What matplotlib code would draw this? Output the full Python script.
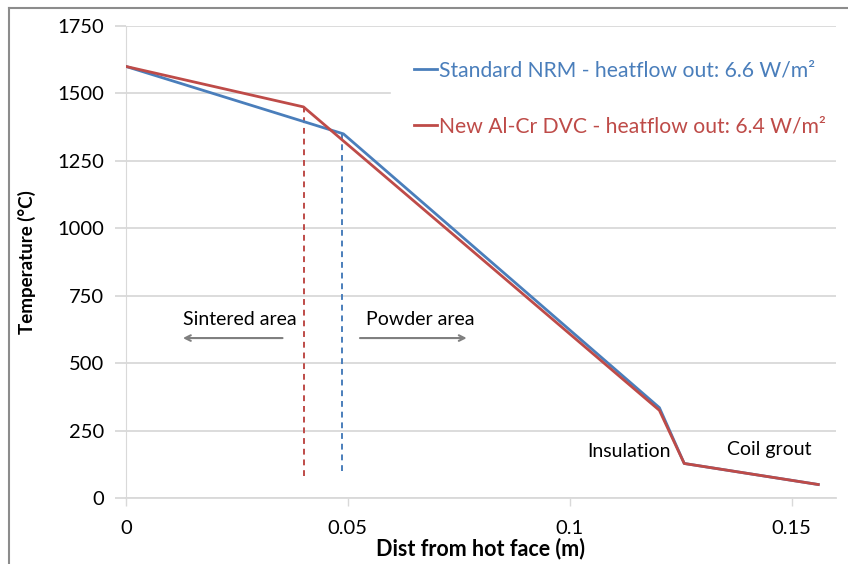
import matplotlib
matplotlib.use("Agg")
import matplotlib.pyplot as plt
from matplotlib.lines import Line2D

plt.rcParams['font.family'] = ['Lato', 'DejaVu Sans']

# temperature profiles through the lining
dist_nrm = [0, 0.049, 0.1202, 0.1258, 0.156]
temp_nrm = [1600, 1350, 335, 128, 50]
dist_dvc = [0, 0.040, 0.1202, 0.1258, 0.156]
temp_dvc = [1600, 1450, 325, 128, 50]

label_nrm = "Standard NRM - heatflow out: 6.6 W/m²"
label_dvc = "New Al-Cr DVC - heatflow out: 6.4 W/m²"

# sintering front markers
front_nrm = (0.0487, 100, 1350)
front_dvc = (0.040, 80, 1450)

xticks = [0, 0.05, 0.1, 0.15]
xticklabels = ["0", "0.05", "0.1", "0.15"]
yticks = [0, 250, 500, 750, 1000, 1250, 1500, 1750]

blue = "#4a7ebb"
red = "#be4b48"
grid = "#d9d9d9"

fig = plt.figure(figsize=(8.48, 5.64), dpi=100)
ax = fig.add_axes([126/848, 1-498/564, 710/848, 472/564])

ax.plot(dist_nrm, temp_nrm, color=blue, lw=2.0, zorder=4)
ax.plot(dist_dvc, temp_dvc, color=red, lw=2.0, zorder=5)

ax.vlines(front_dvc[0], front_dvc[1], front_dvc[2], colors=red, linestyles=(0, (3, 2.5)), lw=1.4, zorder=3)
ax.vlines(front_nrm[0], front_nrm[1], front_nrm[2], colors=blue, linestyles=(0, (3, 2.5)), lw=1.4, zorder=3)

ax.set_xlim(0, 0.16)
ax.set_ylim(0, 1750)
ax.set_xticks(xticks)
ax.set_xticklabels(xticklabels)
ax.set_yticks(yticks)
ax.yaxis.grid(True, color=grid, lw=1.3, zorder=0)
ax.set_axisbelow(True)
for s in ["top", "right"]:
    ax.spines[s].set_visible(False)
ax.spines["left"].set_color(grid)
ax.spines["bottom"].set_color(grid)
ax.spines["bottom"].set_linewidth(1.3)
ax.tick_params(axis="y", length=8, color=grid, width=1.3, pad=8, labelsize=14.5)
ax.tick_params(axis="x", length=6, color=grid, width=1, pad=10, labelsize=14.5)

ax.set_xlabel("Dist from hot face (m)", fontsize=15.5, fontweight="bold", labelpad=0)
ax.set_ylabel("Temperature (°C)", fontsize=13.5, fontweight="bold", labelpad=15)

handles = [Line2D([], [], color=blue, lw=2.0), Line2D([], [], color=red, lw=2.0)]
leg = ax.legend(handles, [label_nrm, label_dvc], loc="upper left",
                bbox_to_anchor=(0.373, 0.977), borderaxespad=0, fontsize=15.2,
                labelcolor="linecolor", handlelength=1.1, handletextpad=0.1,
                labelspacing=1.71, borderpad=1.1, frameon=True, fancybox=False)
leg.get_frame().set_facecolor("white")
leg.get_frame().set_edgecolor("white")
leg.get_frame().set_alpha(1)

arrow = dict(arrowstyle="->", color="#7f7f7f", lw=1.5)
ax.annotate("", xy=(0.0122, 593), xytext=(0.0359, 593), arrowprops=arrow)
ax.annotate("", xy=(0.0774, 593), xytext=(0.0521, 593), arrowprops=arrow)
ax.text(0.0257, 660, "Sintered area", ha="center", va="center", fontsize=14)
ax.text(0.0663, 660, "Powder area", ha="center", va="center", fontsize=14)
ax.text(0.1134, 174, "Insulation", ha="center", va="center", fontsize=14)
ax.text(0.145, 178, "Coil grout", ha="center", va="center", fontsize=14)

# outer chart border
fig.add_artist(Line2D([9/848, 1], [1-8/564, 1-8/564], color="#8c8c8c", lw=1.5))
fig.add_artist(Line2D([9/848, 9/848], [0, 1-8/564], color="#8c8c8c", lw=1.5))

fig.savefig("out.png", dpi=100)
